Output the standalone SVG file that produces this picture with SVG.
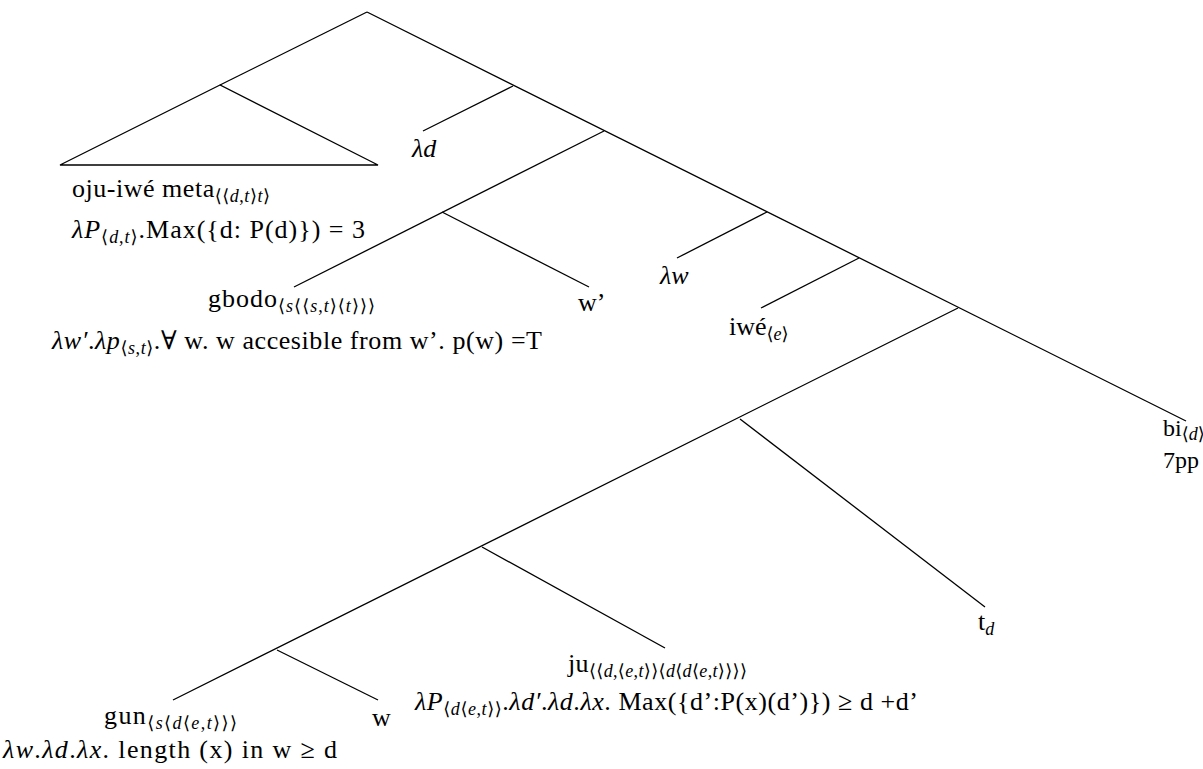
<svg xmlns="http://www.w3.org/2000/svg" width="1203" height="769" viewBox="0 0 1203 769">
<style>
.t{font-family:"Liberation Serif","DejaVu Serif",serif;font-size:26px;fill:#000}
.i{font-style:italic}
.s{font-size:18px}
.m{font-size:24px}
.e line,.e polygon{stroke:#000;stroke-width:1.3;fill:none}
</style>
<rect width="1203" height="769" fill="#fff"/>
<g id="connectors" class="e">
<line x1="367" y1="12" x2="220" y2="85"/>
<polygon points="220,85 60,165 378,165"/>
<line x1="367" y1="12" x2="1186" y2="421"/>
<line x1="513" y1="86" x2="423" y2="131"/>
<line x1="604" y1="131" x2="294" y2="287"/>
<line x1="442" y1="212" x2="589" y2="287"/>
<line x1="767" y1="212" x2="677" y2="258"/>
<line x1="859" y1="258" x2="761" y2="308"/>
<line x1="958" y1="308" x2="173" y2="700"/>
<line x1="740" y1="419" x2="985" y2="607"/>
<line x1="482" y1="547" x2="665" y2="648"/>
<line x1="277" y1="650" x2="378" y2="700"/>
</g>
<g id="n-ojuiwe">
<text class="t" x="72" y="197" textLength="198">oju-iwé meta<tspan class="s" dy="5">⟨⟨<tspan class="i">d</tspan>,<tspan class="i">t</tspan>⟩<tspan class="i">t</tspan>⟩</tspan></text>
<text class="t" x="72" y="238" textLength="293"><tspan class="i">λP</tspan><tspan class="s" dy="5">⟨<tspan class="i">d</tspan>,<tspan class="i">t</tspan>⟩</tspan><tspan dy="-5">.Max({d: P(d)}) = 3</tspan></text>
</g>
<g id="n-lambda-d"><text class="t i" x="412" y="157">λd</text></g>
<g id="n-gbodo">
<text class="t" x="208" y="307" textLength="167">gbodo<tspan class="s" dy="5">⟨<tspan class="i">s</tspan>⟨⟨<tspan class="i">s</tspan>,<tspan class="i">t</tspan>⟩⟨<tspan class="i">t</tspan>⟩⟩⟩</tspan></text>
<text class="t" x="52" y="349" textLength="490"><tspan class="i">λw′</tspan>.<tspan class="i">λp</tspan><tspan class="s" dy="5">⟨<tspan class="i">s</tspan>,<tspan class="i">t</tspan>⟩</tspan><tspan dy="-5">.∀ w. w accesible from w’. p(w) =T</tspan></text>
</g>
<g id="n-wprime"><text class="t" x="578" y="311">w’</text></g>
<g id="n-lambda-w"><text class="t i" x="660" y="284">λw</text></g>
<g id="n-iwe"><text class="t" x="729" y="335">iwé<tspan class="s" dy="5">⟨<tspan class="i">e</tspan>⟩</tspan></text></g>
<g id="n-bi">
<text class="t m" x="1163" y="436">bi<tspan class="s" font-size="16" dy="4">⟨<tspan class="i">d</tspan>⟩</tspan></text>
<text class="t m" x="1163" y="468">7pp</text>
</g>
<g id="n-td"><text class="t" x="978" y="630">t<tspan class="s i" dy="5">d</tspan></text></g>
<g id="n-ju">
<text class="t" x="568" y="672" textLength="179">ju<tspan class="s" dy="5">⟨⟨<tspan class="i">d</tspan>,⟨<tspan class="i">e</tspan>,<tspan class="i">t</tspan>⟩⟩⟨<tspan class="i">d</tspan>⟨<tspan class="i">d</tspan>⟨<tspan class="i">e</tspan>,<tspan class="i">t</tspan>⟩⟩⟩⟩</tspan></text>
<text class="t" x="415" y="710" textLength="503"><tspan class="i">λP</tspan><tspan class="s" dy="5">⟨<tspan class="i">d</tspan>⟨<tspan class="i">e</tspan>,<tspan class="i">t</tspan>⟩⟩</tspan><tspan dy="-5">.<tspan class="i">λd′</tspan>.<tspan class="i">λd</tspan>.<tspan class="i">λx</tspan>. Max({d’:P(x)(d’)}) ≥ d +d’</tspan></text>
</g>
<g id="n-gun">
<text class="t" x="104" y="724" textLength="133">gun<tspan class="s" dy="5">⟨<tspan class="i">s</tspan>⟨<tspan class="i">d</tspan>⟨<tspan class="i">e</tspan>,<tspan class="i">t</tspan>⟩⟩⟩</tspan></text>
<text class="t" x="3" y="758" textLength="334"><tspan class="i">λw</tspan>.<tspan class="i">λd</tspan>.<tspan class="i">λx</tspan>. length (x) in w ≥ d</text>
</g>
<g id="n-w"><text class="t" x="372" y="726">w</text></g>
</svg>
